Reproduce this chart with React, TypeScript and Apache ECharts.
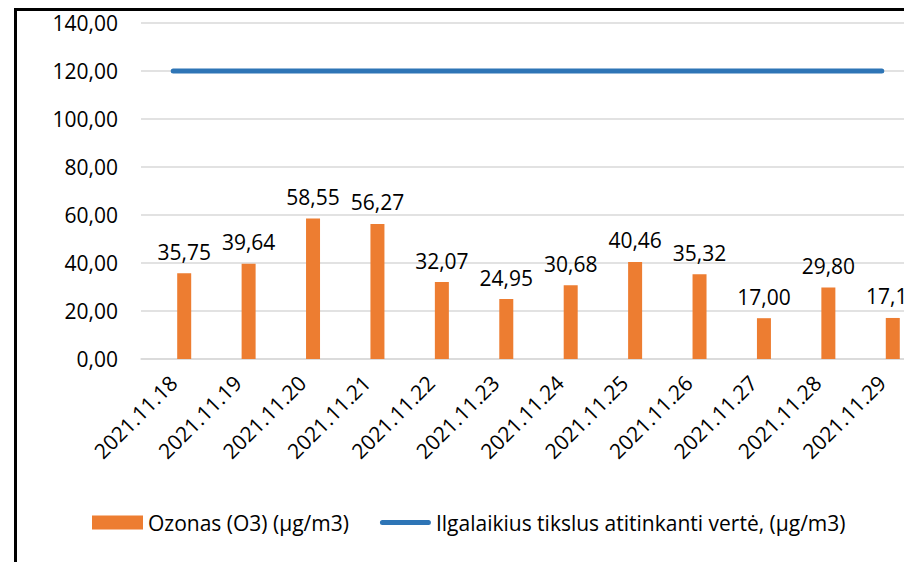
import React, { useEffect, useRef } from "react";
import * as echarts from "echarts";

const categories = [
  "2021.11.18", "2021.11.19", "2021.11.20", "2021.11.21", "2021.11.22", "2021.11.23",
  "2021.11.24", "2021.11.25", "2021.11.26", "2021.11.27", "2021.11.28", "2021.11.29",
];
const ozoneValues = [35.75, 39.64, 58.55, 56.27, 32.07, 24.95, 30.68, 40.46, 35.32, 17.0, 29.8, 17.1];
const targetValues = [120, 120, 120, 120, 120, 120, 120, 120, 120, 120, 120, 120];
const ozoneName = "Ozonas (O3) (µg/m3)";
const targetName = "Ilgalaikius tikslus atitinkanti vertė, (µg/m3)";

const FONT = "'Open Sans', sans-serif";
const fmt = (v: number) => v.toFixed(2).replace(".", ",");

export default function App() {
  const ref = useRef<HTMLDivElement>(null);
  useEffect(() => {
    document.body.style.margin = "0";
    const chart = echarts.init(ref.current!, null, { renderer: "svg" });
    chart.setOption({
      animation: false,
      backgroundColor: "#ffffff",
      textStyle: { fontFamily: FONT },
      grid: { left: 141, top: 23, height: 336, width: 773, outerBoundsMode: "none", containLabel: false },
      legend: {
        left: 92,
        top: 512,
        padding: 0,
        itemWidth: 51,
        itemHeight: 14,
        itemGap: 31,
        textStyle: { fontFamily: FONT, fontSize: 21, color: "#000" },
        data: [
          { name: ozoneName, icon: "rect" },
          { name: targetName, icon: "path://M2.5,0 L48.5,0 A2.5,2.5 0 0 1 48.5,5 L2.5,5 A2.5,2.5 0 0 1 2.5,0 Z", itemStyle: { color: "#2E75B6" } },
        ],
      },
      xAxis: {
        type: "category",
        data: categories,
        axisLine: { lineStyle: { color: "#D9D9D9", width: 1.5 } },
        axisTick: { show: false },
        axisLabel: { rotate: 45, fontSize: 21, color: "#000", fontFamily: FONT, margin: 20, interval: 0 },
      },
      yAxis: {
        type: "value",
        min: 0,
        max: 140,
        interval: 20,
        axisLine: { show: false },
        axisTick: { show: false },
        splitLine: { lineStyle: { color: "#D9D9D9", width: 1.5 } },
        axisLabel: { fontSize: 21, color: "#000", fontFamily: FONT, margin: 23, formatter: (v: number) => fmt(v) },
      },
      series: [
        {
          name: "_spacer",
          type: "bar",
          data: categories.map(() => null),
          barWidth: 14,
          barGap: "57%",
          itemStyle: { color: "transparent" },
          silent: true,
        },
        {
          name: ozoneName,
          type: "bar",
          data: ozoneValues,
          barWidth: 14,
          barGap: "57%",
          itemStyle: { color: "#ED7D31" },
          label: {
            show: true,
            position: "top",
            distance: 11,
            fontSize: 21,
            color: "#000",
            fontFamily: FONT,
            formatter: (p: any) => fmt(p.value),
          },
        },
        {
          name: targetName,
          type: "line",
          data: targetValues,
          symbol: "none",
          lineStyle: { color: "#2E75B6", width: 5, cap: "round" },
          itemStyle: { color: "#2E75B6" },
        },
      ],
      graphic: [
        {
          type: "polyline",
          shape: { points: [[15.5, 562], [15.5, 9.5], [904, 9.5]] },
          style: { stroke: "#000", lineWidth: 3, fill: "none" },
          z: 100,
        },
      ],
    });
    return () => chart.dispose();
  }, []);
  return <div ref={ref} style={{ width: 904, height: 562 }} />;
}
